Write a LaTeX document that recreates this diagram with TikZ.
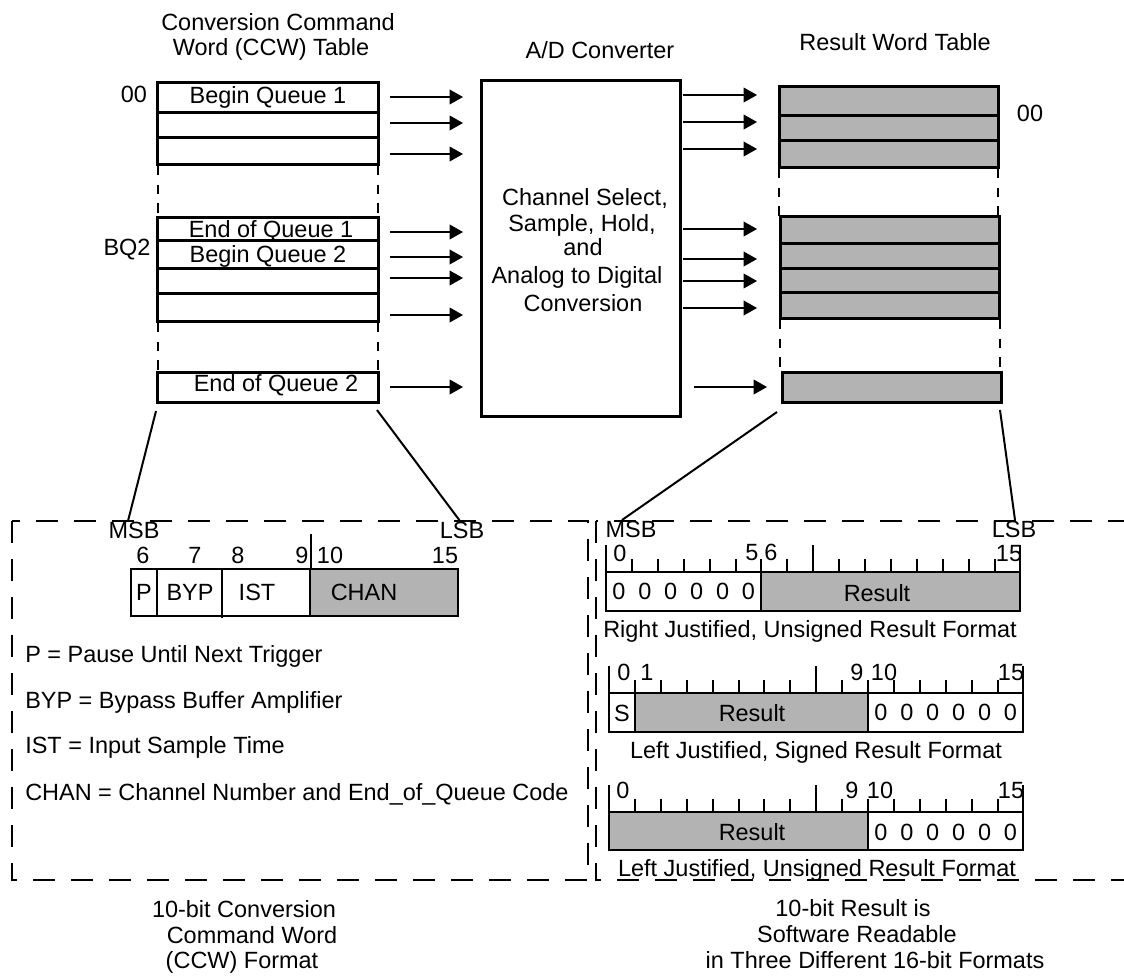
\documentclass[tikz,border=0pt]{standalone}
\usepackage{fontspec}
\setmainfont{Liberation Sans}
\usetikzlibrary{arrows.meta}
\definecolor{cellgray}{RGB}{179,179,179}
\begin{document}
\begin{tikzpicture}[x=0.75pt,y=-0.75pt,
  txt/.style={font=\fontsize{17.6}{21}\selectfont, inner sep=0pt, text height=12.6pt, text depth=0pt},
  rowbox/.style={draw, line width=2.25pt},
  resrow/.style={draw, fill=cellgray, line width=2.25pt},
  arr/.style={-{Triangle[length=10pt,width=11pt]}, line width=1.1pt},
  gapline/.style={dash pattern=on 7pt off 7pt, line width=1.5pt},
  fmt/.style={draw, line width=1.5pt},
  tick/.style={line width=1.5pt},
  frame/.style={dash pattern=on 16.5pt off 12pt, line width=1.5pt},
  link/.style={line width=1.5pt}]
\useasboundingbox (0,0) rectangle (1124,975);
\clip (0,0) rectangle (1124,975);

% titles
\node[txt] (t1a) at (278,22) {Conversion Command};
\node[txt] (t1b) at (271,47) {Word (CCW) Table};
\node[txt] (t2) at (600,50) {A/D Converter};
\node[txt] (t3) at (895,42) {Result Word Table};
\node[txt] (l00) at (134,94) {00};
\node[txt] (lbq) at (127,247) {BQ2};
\node[txt] (r00) at (1030,113) {00};

% CCW table
\foreach \a/\b in {82/112,112/137,137/164,217/240,240/268,268/293,293/321,372/402}
  \draw[rowbox] (157,\a) rectangle (378,\b);
\draw[gapline] (158,166) -- (158,217);
\draw[gapline] (378,166) -- (378,217);
\draw[gapline] (158,323) -- (158,372);
\draw[gapline] (378,323) -- (378,372);
\node[txt] (q1b) at (268,95) {Begin Queue 1};
\node[txt] (q1e) at (271,229) {End of Queue 1};
\node[txt] (q2b) at (268,254) {Begin Queue 2};
\node[txt] (q2e) at (276,383) {End of Queue 2};

% arrows CCW -> A/D
\foreach \y [count=\i] in {97,123,154,232,257,278,315,387} {
  \coordinate (ca\i) at (390,\y);
  \coordinate (cb\i) at (463,\y);
  \draw[arr] (ca\i) -- (cb\i);
}

% A/D converter
\node[draw, line width=2.25pt, minimum width=149.25pt, minimum height=252pt, inner sep=0pt] (ad) at (580.5,248) {};
\node[txt] (ad1) at (585,197) {Channel Select,};
\node[txt] (ad2) at (582,223) {Sample, Hold,};
\node[txt] (ad3) at (583,247) {and};
\node[txt] (ad4) at (577,275) {Analog to Digital};
\node[txt] (ad5) at (583,303) {Conversion};

% arrows A/D -> result
\foreach \y [count=\i] in {95,122,149,229,259,281,308} {
  \coordinate (da\i) at (683,\y);
  \coordinate (db\i) at (757,\y);
  \draw[arr] (da\i) -- (db\i);
}
\coordinate (da8) at (694,387);
\coordinate (db8) at (767,387);
\draw[arr] (da8) -- (db8);

% result table
\foreach \a/\b in {86/115,115/140,140/167}
  \draw[resrow] (779,\a) rectangle (998,\b);
\foreach \a/\b in {216/243,243/268,268/292,292/318}
  \draw[resrow] (780,\a) rectangle (999,\b);
\draw[resrow] (782,372) rectangle (1001,402);
\draw[gapline] (779,169) -- (779,216);
\draw[gapline] (998,169) -- (998,216);
\draw[gapline] (780,320) -- (780,372);
\draw[gapline] (1000,320) -- (1000,372);

% MSB / LSB labels and links
\node[txt] (msbL) at (134,530) {MSB};
\node[txt] (lsbL) at (462,530) {LSB};
\node[txt] (msbR) at (631,529) {MSB};
\node[txt] (lsbR) at (1014,529) {LSB};
\coordinate (ccwA) at (156,411);
\coordinate (ccwB) at (377,410);
\coordinate (resA) at (777,412);
\coordinate (resB) at (1000,410);
\coordinate (msbLt) at (128,521);
\coordinate (lsbLt) at (460,521);
\coordinate (msbRt) at (622,520);
\coordinate (lsbRt) at (1015,520);
\draw[link] (ccwA) -- (msbLt);
\draw[link] (ccwB) -- (lsbLt);
\draw[link] (resA) -- (msbRt);
\draw[link] (resB) -- (lsbRt);

% dashed frames
\draw[frame] (12,521) rectangle (588,880);
\draw[frame] (596,521) rectangle (1150,880);

% CCW format
\fill[cellgray] (310,569) rectangle (458,616);
\draw[fmt] (131,569) rectangle (458,616);
\draw[tick] (157,569) -- (157,616);
\draw[tick] (222,569) -- (222,618);
\draw[tick] (310,569) -- (310,616);
\draw[tick] (311,534) -- (311,569);
\node[txt] (b6) at (143,555) {6};
\node[txt] (b7) at (195,555) {7};
\node[txt] (b8) at (238,555) {8};
\node[txt] (b9) at (302,555) {9};
\node[txt] (b10) at (330,555) {10};
\node[txt] (b15) at (445,555) {15};
\node[txt] (fP) at (144,592) {P};
\node[txt] (fB) at (190,592) {BYP};
\node[txt] (fI) at (257,592) {IST};
\node[txt] (fC) at (364,592) {CHAN};

% legend
\node[txt, anchor=west] (lg1) at (25,654) {P = Pause Until Next Trigger};
\node[txt, anchor=west] (lg2) at (25,700) {BYP = Bypass Buffer Amplifier};
\node[txt, anchor=west] (lg3) at (25,745) {IST = Input Sample Time};
\node[txt, anchor=west] (lg4) at (25,792) {CHAN = Channel Number and End\_of\_Queue Code};

% result formats: ticks
\foreach \xo/\ty in {606/572, 609/693, 609/812} {
  \foreach \k in {1,...,15} {
    \pgfmathsetmacro\hh{\k==8 ? 27 : 13}
    \draw[tick] ({\xo+\k*25.9},\ty) -- ++(0,-\hh);
  }
  \draw[tick] (\xo,\ty) -- ++(0,-27);
  \draw[tick] ({\xo+16*25.9},\ty) -- ++(0,-27);
}

% format 1
\fill[cellgray] ({606+6*25.9},572) rectangle ({606+16*25.9},611);
\draw[fmt] (606,572) rectangle ({606+16*25.9},611);
\draw[tick] ({606+6*25.9},572) -- ({606+6*25.9},611);
\foreach \i in {0,...,5}
  \node[txt] (fa\i) at ({606+(\i+0.5)*25.9},591) {0};
\node[txt] (faR) at (877,593) {Result};
\node[txt] (fa0l) at (620,553) {0};
\node[txt] (fa5l) at (752,552) {5};
\node[txt] (fa6l) at (771,552) {6};
\node[txt] (fa15l) at (1009,553) {15};
\node[txt, anchor=west] (fcap1) at (603,629) {Right Justified, Unsigned Result Format};

% format 2
\fill[cellgray] ({609+25.9},693) rectangle ({609+10*25.9},732);
\draw[fmt] (609,693) rectangle ({609+16*25.9},732);
\draw[tick] ({609+25.9},693) -- ({609+25.9},732);
\draw[tick] ({609+10*25.9},693) -- ({609+10*25.9},732);
\node[txt] (fbS) at (622,713) {S};
\node[txt] (fbR) at (752,713) {Result};
\foreach \i in {10,...,15}
  \node[txt] (fb\i) at ({609+(\i+0.5)*25.9},712) {0};
\node[txt] (fb0l) at (624,672) {0};
\node[txt] (fb1l) at (647,672) {1};
\node[txt] (fb9l) at (857,672) {9};
\node[txt] (fb10l) at (884,672) {10};
\node[txt] (fb15l) at (1011,672) {15};
\node[txt] (fcap2) at (816,750) {Left Justified, Signed Result Format};

% format 3
\fill[cellgray] (609,812) rectangle ({609+10*25.9},850);
\draw[fmt] (609,812) rectangle ({609+16*25.9},850);
\draw[tick] ({609+10*25.9},812) -- ({609+10*25.9},850);
\node[txt] (fcR) at (752,832) {Result};
\foreach \i in {10,...,15}
  \node[txt] (fc\i) at ({609+(\i+0.5)*25.9},832) {0};
\node[txt] (fc0l) at (623,790) {0};
\node[txt] (fc9l) at (852,790) {9};
\node[txt] (fc10l) at (880,790) {10};
\node[txt] (fc15l) at (1011,790) {15};
\node[txt] (fcap3) at (817,868) {Left Justified, Unsigned Result Format};

% bottom captions
\node[txt] (bl1) at (244,909) {10-bit Conversion};
\node[txt] (bl2) at (252,935) {Command Word};
\node[txt] (bl3) at (242,960) {(CCW) Format};
\node[txt] (br1) at (853,908) {10-bit Result is};
\node[txt] (br2) at (857,934) {Software Readable};
\node[txt] (br3) at (875,960) {in Three Different 16-bit Formats};
\end{tikzpicture}
\end{document}
